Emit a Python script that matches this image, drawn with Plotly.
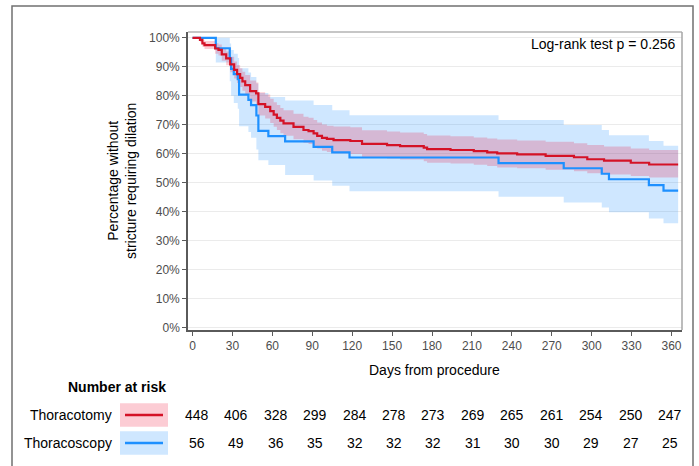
import plotly.graph_objects as go

# ---------------- data ----------------
red_days = [0, 5.6, 7.4, 9, 17, 19.5, 22, 25.3, 28.3, 31.3, 33.5, 35.8, 37.5, 39.6, 43.3,
            47.8, 49.5, 54.6, 58.4, 61, 63.4, 66, 68.4, 75.9, 83.4, 87.2, 91, 93.7, 97.3,
            101, 106, 118.6, 127.4, 146.2, 156, 173.8, 176.3, 193.9, 211.4, 221.5, 229,
            244, 265.4, 286.7, 296.7, 309.3, 329.4, 343.2, 365]
red_surv = [100, 99.3, 98.1, 97.5, 96.3, 95.8, 94.3, 92.9, 90.8, 88.9, 87.5, 86.2, 85.0, 83.7,
            81.6, 80.8, 77.1, 76.2, 74.7, 73.5, 72.4, 71.4, 70.5, 69.3, 68.2, 67.8, 67.0,
            66.2, 65.5, 65.1, 64.7, 64.4, 63.4, 63.0, 62.6, 62.1, 61.6, 61.3, 60.9, 60.5,
            60.1, 59.8, 59.3, 58.8, 58.1, 57.6, 56.9, 56.3, 56.3]
red_lower = [100, 98.5, 96.9, 96.1, 94.5, 93.9, 92.1, 90.5, 88.1, 86.0, 84.4, 83.0, 81.7, 80.3,
             78.0, 77.1, 73.2, 72.2, 70.6, 69.3, 68.2, 67.1, 66.2, 65.0, 63.8, 63.4, 62.6,
             61.8, 61.0, 60.6, 60.2, 59.9, 58.8, 58.4, 58.0, 57.4, 56.9, 56.6, 56.2, 55.8,
             55.3, 55.0, 54.5, 54.0, 53.3, 52.8, 52.3, 51.8, 51.8]
red_upper = [100, 100, 99.3, 98.9, 98.1, 97.7, 96.5, 95.3, 93.5, 91.8, 90.6, 89.5, 88.3, 87.2,
             85.3, 84.6, 81.2, 80.4, 79.0, 77.8, 76.8, 75.8, 75.0, 73.8, 72.8, 72.4, 71.6,
             70.8, 70.1, 69.7, 69.4, 69.1, 68.1, 67.7, 67.3, 66.8, 66.3, 66.0, 65.6, 65.3,
             64.9, 64.6, 64.1, 63.6, 63.0, 62.5, 61.8, 61.3, 61.3]

blue_days = [0, 17.5, 28, 29, 31, 34, 35, 42, 44, 48, 49.5, 57, 69.6, 91, 105, 118, 230,
             279, 307.6, 313, 343, 354, 365]
blue_surv = [100, 96.4, 92.9, 89.3, 87.5, 85.7, 80.4, 78.6, 76.8, 73.2, 67.9, 66.1, 64.3,
             62.4, 60.5, 58.7, 56.8, 55.0, 53.1, 51.2, 49.2, 47.3, 47.3]
blue_lower = [100, 91.5, 85.0, 80.0, 77.5, 75.5, 69.5, 67.5, 65.5, 61.5, 57.8, 56.1, 52.7,
              50.8, 49.0, 47.1, 45.2, 43.2, 41.5, 39.8, 37.7, 36.0, 36.0]
blue_upper = [100, 100, 98.0, 95.8, 94.5, 93.0, 89.5, 88.0, 86.5, 84.2, 81.0, 79.6, 78.4,
              76.8, 75.0, 73.3, 71.6, 69.9, 68.2, 66.4, 64.4, 62.8, 62.8]

groups = ["Thoracotomy", "Thoracoscopy"]
risk_days = [0, 30, 60, 90, 120, 150, 180, 210, 240, 270, 300, 330, 360]
risk_thoracotomy = [448, 406, 328, 299, 284, 278, 273, 269, 265, 261, 254, 250, 247]
risk_thoracoscopy = [56, 49, 36, 35, 32, 32, 32, 31, 30, 30, 29, 27, 25]
x_ticks = [0, 30, 60, 90, 120, 150, 180, 210, 240, 270, 300, 330, 360]
y_ticks = [0, 10, 20, 30, 40, 50, 60, 70, 80, 90, 100]
y_tick_labels = ["0%", "10%", "20%", "30%", "40%", "50%", "60%", "70%", "80%", "90%", "100%"]
pvalue_text = "Log-rank test p = 0.256"

# ---------------- styles ----------------
FONT = "Liberation Sans, Arial, sans-serif"
RED = "rgb(212,18,38)"
BLUE = "rgb(30,144,255)"
RED_FILL = "rgba(240,0,40,0.2)"
BLUE_FILL = "rgba(30,144,255,0.21)"

fig = go.Figure()

def ribbon(days, lo, hi, fill):
    fig.add_trace(go.Scatter(x=days, y=lo, mode="lines", line=dict(width=0, shape="hv"),
                             showlegend=False, hoverinfo="skip"))
    fig.add_trace(go.Scatter(x=days, y=hi, mode="lines", line=dict(width=0, shape="hv"),
                             fill="tonexty", fillcolor=fill, showlegend=False, hoverinfo="skip"))

ribbon(blue_days, blue_lower, blue_upper, BLUE_FILL)
ribbon(red_days, red_lower, red_upper, RED_FILL)
fig.add_trace(go.Scatter(x=blue_days, y=blue_surv, mode="lines", name=groups[1],
                         line=dict(color=BLUE, width=2.2, shape="hv"), showlegend=False))
fig.add_trace(go.Scatter(x=red_days, y=red_surv, mode="lines", name=groups[0],
                         line=dict(color=RED, width=2.2, shape="hv"), showlegend=False))

# layout geometry (pixels)
W, H = 699, 466
L, R, T, B = 188, 17, 32, 136
PW, PH = W - L - R, H - T - B

def px_x(p):
    return (p - L) / PW

def px_y(p):
    return (H - B - p) / PH

fig.update_layout(
    width=W, height=H,
    margin=dict(l=L, r=R, t=T, b=B, pad=0),
    paper_bgcolor="white", plot_bgcolor="white",
    font=dict(family=FONT, size=14, color="black"),
    showlegend=False,
    xaxis=dict(range=[-3.4, 367.9], tickvals=x_ticks, showgrid=False, zeroline=False,
               showline=True, linecolor="#5a5a5a", linewidth=1.6,
               ticks="outside", ticklen=4, tickcolor="#5a5a5a", tickwidth=1.2,
               tickfont=dict(size=12, color="#4d4d4d", family=FONT)),
    yaxis=dict(range=[-0.8, 102], tickvals=y_ticks, ticktext=y_tick_labels, showgrid=True,
               gridcolor="#ebebeb", gridwidth=1, zeroline=False,
               showline=True, linecolor="#5a5a5a", linewidth=1.6,
               ticks="outside", ticklen=4, tickcolor="#5a5a5a", tickwidth=1.2,
               tickfont=dict(size=12, color="#4d4d4d", family=FONT)),
)

shapes = []
# panel border (top & right)
shapes.append(dict(type="line", xref="paper", yref="paper", x0=0, x1=1, y0=1, y1=1,
                   line=dict(color="#b3b3b3", width=1.5)))
shapes.append(dict(type="line", xref="paper", yref="paper", x0=1, x1=1, y0=0, y1=1,
                   line=dict(color="#a6a6a6", width=1.5)))
# outer frame
shapes.append(dict(type="rect", xref="paper", yref="paper",
                   x0=px_x(12), x1=px_x(693), y0=px_y(475), y1=px_y(6),
                   line=dict(color="#707070", width=1.5), fillcolor="rgba(0,0,0,0)", layer="above"))
# legend keys in risk table
for fill, col, yc in [(RED_FILL, RED, 415), (BLUE_FILL, BLUE, 443)]:
    shapes.append(dict(type="rect", xref="paper", yref="paper",
                       x0=px_x(120), x1=px_x(168), y0=px_y(yc + 11.7), y1=px_y(yc - 11.7),
                       line=dict(width=0), fillcolor=fill))
    shapes.append(dict(type="line", xref="paper", yref="paper",
                       x0=px_x(125), x1=px_x(163), y0=px_y(yc), y1=px_y(yc),
                       line=dict(color=col, width=2.5)))
fig.update_layout(shapes=shapes)

ann = []
ann.append(dict(text=pvalue_text, xref="paper", yref="paper", x=px_x(678), y=px_y(43.5),
                xanchor="right", yanchor="middle", showarrow=False,
                font=dict(size=14, color="black")))
ann.append(dict(text="Days from procedure", xref="paper", yref="paper", x=px_x(434),
                y=px_y(369.5), xanchor="center", yanchor="middle", showarrow=False,
                font=dict(size=14, color="black")))
ann.append(dict(text="Percentage without<br>stricture requiring dilation", xref="paper",
                yref="paper", x=px_x(122), y=px_y(181), textangle=-90, xanchor="center",
                yanchor="middle", showarrow=False, font=dict(size=14, color="black")))
ann.append(dict(text="<b>Number at risk</b>", xref="paper", yref="paper", x=px_x(168),
                y=px_y(386.5), xanchor="right", yanchor="middle", showarrow=False,
                font=dict(size=14, color="black")))
TABLE_OFFSET, TABLE_SCALE = 3.2, 0.988  # risk table columns are slightly offset from ticks
for name, counts, yc in [(groups[0], risk_thoracotomy, 415), (groups[1], risk_thoracoscopy, 443)]:
    ann.append(dict(text=name, xref="paper", yref="paper", x=px_x(113.5), y=px_y(yc),
                    xanchor="right", yanchor="middle", showarrow=False,
                    font=dict(size=14, color="black")))
    for d, n in zip(risk_days, counts):
        ann.append(dict(text=str(n), xref="x", yref="paper", x=TABLE_OFFSET + TABLE_SCALE * d,
                        y=px_y(yc), xanchor="center", yanchor="middle", showarrow=False,
                        font=dict(size=14, color="black")))
fig.update_layout(annotations=ann)

fig.write_html("out.html", config={"displayModeBar": False},
               post_script="document.body.style.margin='0';document.body.style.overflow='hidden';")
